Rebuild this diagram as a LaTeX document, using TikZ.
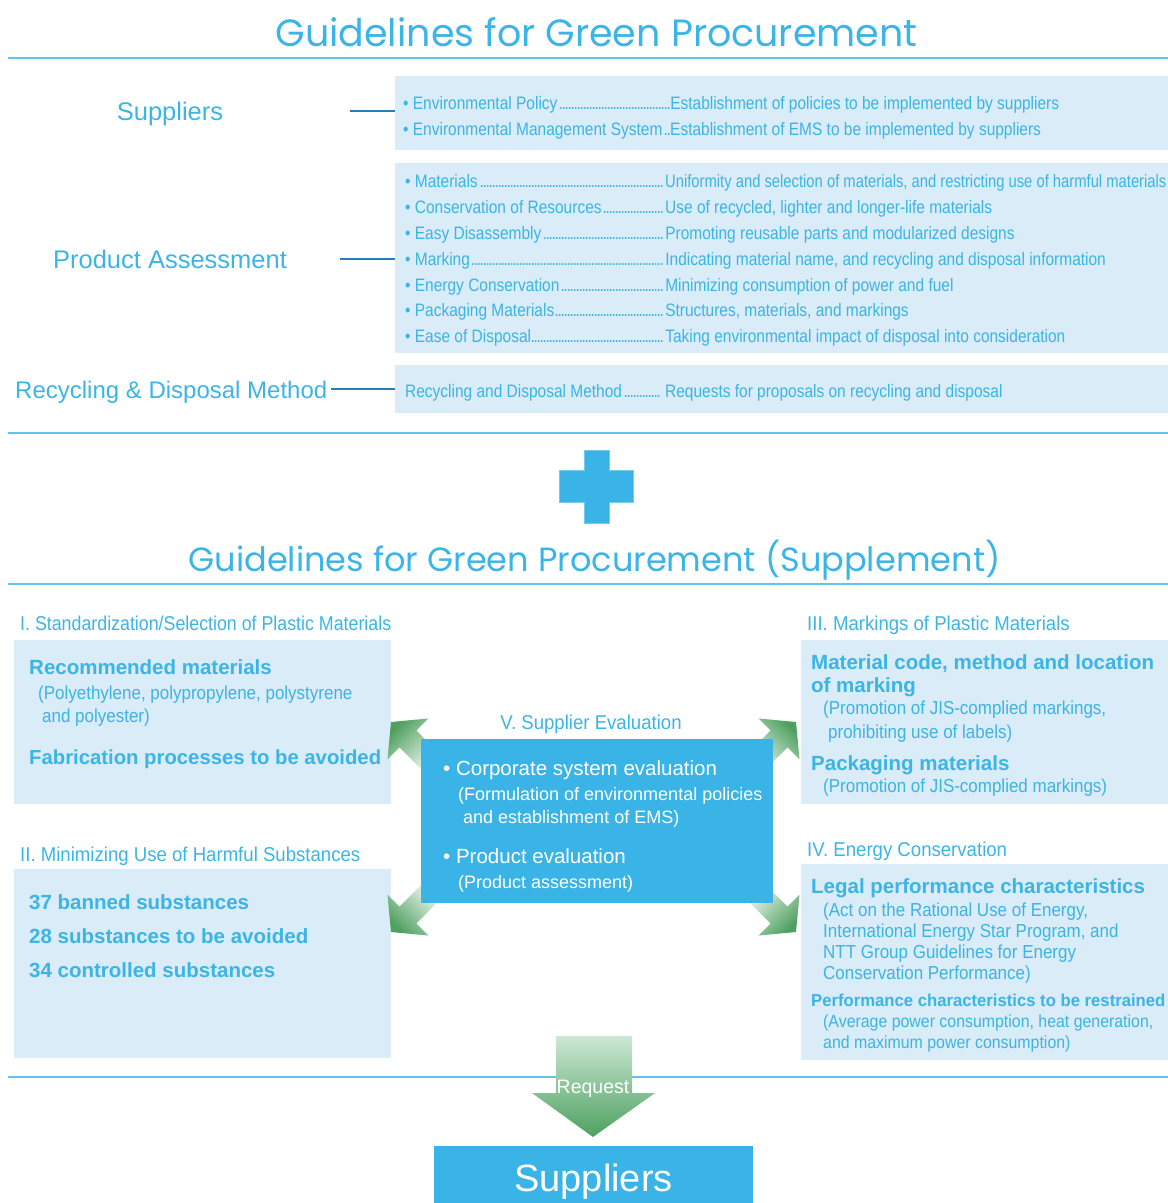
\documentclass[tikz,border=0pt]{standalone}
\usepackage{fontspec}
\setmainfont{Liberation Sans}
\newfontfamily\cond[FakeStretch=0.86]{Liberation Sans}
\newfontfamily\condp[FakeStretch=0.903]{Liberation Sans}
\newfontfamily\condh[FakeStretch=0.93]{Liberation Sans}
\newfontfamily\condhi[FakeStretch=0.89]{Liberation Sans}
\newfontfamily\titlef{Poppins}
\usetikzlibrary{calc}
\definecolor{cy}{RGB}{59,180,230}
\definecolor{lbfill}{RGB}{217,236,247}
\definecolor{dbfill}{RGB}{58,180,230}
\definecolor{sepc}{RGB}{96,196,236}
\definecolor{conncol}{RGB}{40,125,180}
\definecolor{gdark}{RGB}{78,160,96}
\definecolor{glight}{RGB}{205,232,212}
\newcommand\fs[1]{\fontsize{#1}{#1}\selectfont}
\newcommand\lead{\leaders\hbox to 3pt{\hss.\hss}\hfill}
\newcommand\carrow[4]{%
  \coordinate (#4) at ($(#1)!24pt!(#2)$);
  \shade[top color=gdark, bottom color=white, shading angle=#3]
   (#1) -- ($(#4)!29pt!90:(#1)$) -- ($(#4)!12pt!90:(#1)$) -- ($(#2)!12pt!90:(#1)$)
   -- ($(#2)!12pt!-90:(#1)$) -- ($(#4)!12pt!-90:(#1)$) -- ($(#4)!29pt!-90:(#1)$) -- cycle;}
\tikzset{
  lbox/.style={fill=lbfill, draw=none, inner sep=0pt, outer sep=0pt, anchor=north west},
  dbox/.style={fill=dbfill, draw=none, inner sep=0pt, outer sep=0pt, anchor=north west},
  txt/.style={inner sep=0pt, anchor=base west, text=cy},
  wtxt/.style={inner sep=0pt, anchor=base west, text=white},
  sepline/.style={draw=sepc, line width=1.4pt},
  conn/.style={draw=conncol, line width=1.1pt},
  listf/.style={font=\cond\fs{18}},
  headf/.style={font=\condh\fs{20}},
  boldf/.style={font=\bfseries\fs{20.5}},
  parf/.style={font=\condp\fs{18.8}},
  parsf/.style={font=\condp\fs{17.6}},
}
\begin{document}
\begin{tikzpicture}[x=1pt,y=-1pt]
\useasboundingbox (0,0) rectangle (1168,1203);
% separators
\draw[sepline] (8,58) -- (1168,58);
\draw[sepline] (8,433) -- (1168,433);
\draw[sepline] (8,584) -- (1168,584);
\draw[sepline] (8,1077) -- (1168,1077);
% titles
\node[inner sep=0pt, anchor=base, text=cy, font=\titlef\fs{38}] (t1) at (596.5,46) {Guidelines for Green Procurement};
\node[inner sep=0pt, anchor=base, text=cy, font=\titlef\fs{33.6}] (t2) at (594.5,571) {Guidelines for Green Procurement (Supplement)};
% top boxes
\node[lbox, minimum width=773pt, minimum height=74pt] (box1) at (395,76) {};
\node[lbox, minimum width=773pt, minimum height=190pt] (box2) at (395,163) {};
\node[lbox, minimum width=773pt, minimum height=48pt] (box3) at (395,365) {};
% left labels
\node[inner sep=0pt, anchor=base, text=cy, font=\fs{25.5}] (lsup) at (170,120) {Suppliers};
\node[inner sep=0pt, anchor=base, text=cy, font=\fs{25.5}] (lpa) at (170,268) {Product Assessment};
\node[txt, font=\fs{24}] (lrec) at (15,398) {Recycling \& Disposal Method};
\coordinate (c1) at (350,111);
\coordinate (c2) at (340,259);
\coordinate (c3) at (331,389);
\draw[conn] (c1) -- (c1 -| box1.west);
\draw[conn] (c2) -- (c2 -| box2.west);
\draw[conn] (c3) -- (c3 -| box3.west);
% box1 text
\node[txt, listf] (b1a) at (403,109.5) {\makebox[267pt][l]{• Environmental Policy\lead}Establishment of policies to be implemented by suppliers};
\node[txt, listf] (b1b) at (403,135.5) {\makebox[267pt][l]{• Environmental Management System\lead}Establishment of EMS to be implemented by suppliers};
% box2 text
\node[txt, listf] (b2a) at (405,187.5) {\makebox[260pt][l]{• Materials\lead}\scalebox{0.955}[1]{Uniformity and selection of materials, and restricting use of harmful materials}};
\node[txt, listf] (b2b) at (405,213.5) {\makebox[260pt][l]{• Conservation of Resources\lead}Use of recycled, lighter and longer-life materials};
\node[txt, listf] (b2c) at (405,239.5) {\makebox[260pt][l]{• Easy Disassembly\lead}Promoting reusable parts and modularized designs};
\node[txt, listf] (b2d) at (405,265.5) {\makebox[260pt][l]{• Marking\lead}Indicating material name, and recycling and disposal information};
\node[txt, listf] (b2e) at (405,291.5) {\makebox[260pt][l]{• Energy Conservation\lead}Minimizing consumption of power and fuel};
\node[txt, listf] (b2f) at (405,316.5) {\makebox[260pt][l]{• Packaging Materials\lead}Structures, materials, and markings};
\node[txt, listf] (b2g) at (405,342.5) {\makebox[260pt][l]{• Ease of Disposal\lead}Taking environmental impact of disposal into consideration};
% box3 text
\node[txt, listf] (b3a) at (405,397.5) {\makebox[256pt][l]{Recycling and Disposal Method\lead}\hspace{4pt}Requests for proposals on recycling and disposal};
% plus sign
\fill[dbfill, draw=dbfill!70!white, line width=0.6pt] (584,450) -- (609,450) -- (609,470) -- (633,470) -- (633,502) -- (609,502) -- (609,523) -- (584,523) -- (584,502) -- (559,502) -- (559,470) -- (584,470) -- cycle;
% supplement boxes
\node[lbox, minimum width=377pt, minimum height=164pt] (bI) at (14,640) {};
\node[lbox, minimum width=377pt, minimum height=189pt] (bII) at (14,869) {};
\node[lbox, minimum width=367pt, minimum height=164pt] (bIII) at (801,640) {};
\node[lbox, minimum width=367pt, minimum height=196pt] (bIV) at (801,864) {};
% corner arrows
\coordinate (ulP) at (391,722); \coordinate (ulT) at (436,767);
\coordinate (urP) at (796,722); \coordinate (urT) at (751,767);
\coordinate (llP) at (391,932); \coordinate (llT) at (436,887);
\coordinate (lrP) at (796,932); \coordinate (lrT) at (751,887);
\carrow{ulP}{ulT}{45}{ulB}
\carrow{urP}{urT}{-45}{urB}
\carrow{llP}{llT}{135}{llB}
\carrow{lrP}{lrT}{-135}{lrB}
% center box
\node[dbox, minimum width=352pt, minimum height=164pt] (cbox) at (421,739) {};
\node[inner sep=0pt, anchor=base, text=cy, font=\condh\fs{20}] (hV) at (591,729) {V. Supplier Evaluation};
\node[wtxt, font=\fs{20.5}] (v1) at (443,775.5) {• Corporate system evaluation};
\node[wtxt, font=\fs{18}] (v2) at (458,800.5) {(Formulation of environmental policies};
\node[wtxt, font=\fs{18}] (v3) at (463,823.5) {and establishment of EMS)};
\node[wtxt, font=\fs{20.5}] (v4) at (443,863.5) {• Product evaluation};
\node[wtxt, font=\fs{18}] (v5) at (458,888.5) {(Product assessment)};
% section I
\node[txt, font=\condhi\fs{20}] (hI) at (20,630) {I. Standardization/Selection of Plastic Materials};
\node[txt, boldf] (i1) at (29,674.5) {Recommended materials};
\node[txt, parf] (i2) at (38,699.7) {(Polyethylene, polypropylene, polystyrene};
\node[txt, parf] (i3) at (42,722.7) {and polyester)};
\node[txt, font=\bfseries\fs{20.3}] (i4) at (29,764.5) {Fabrication processes to be avoided};
% section II
\node[txt, headf] (hII) at (20,861) {II. Minimizing Use of Harmful Substances};
\node[txt, boldf] (ii1) at (29,909.5) {37 banned substances};
\node[txt, boldf] (ii2) at (29,943.5) {28 substances to be avoided};
\node[txt, boldf] (ii3) at (29,977.5) {34 controlled substances};
% section III
\node[txt, headf] (hIII) at (807,630) {III. Markings of Plastic Materials};
\node[txt, boldf] (iii1) at (811,669.5) {Material code, method and location};
\node[txt, boldf] (iii2) at (811,692.5) {of marking};
\node[txt, parf] (iii3) at (823,714.7) {(Promotion of JIS-complied markings,};
\node[txt, parf] (iii4) at (828,738.7) {prohibiting use of labels)};
\node[txt, boldf] (iii5) at (811,770.5) {Packaging materials};
\node[txt, parf] (iii6) at (823,792.7) {(Promotion of JIS-complied markings)};
% section IV
\node[txt, headf] (hIV) at (807,856) {IV. Energy Conservation};
\node[txt, boldf] (iv1) at (811,893.5) {Legal performance characteristics};
\node[txt, parf] (iv2) at (823,916) {(Act on the Rational Use of Energy,};
\node[txt, parf] (iv3) at (823,937) {International Energy Star Program, and};
\node[txt, parf] (iv4) at (823,958) {NTT Group Guidelines for Energy};
\node[txt, parf] (iv5) at (823,979) {Conservation Performance)};
\node[txt, font=\bfseries\fs{17.2}] (iv6) at (811,1006.5) {\scalebox{0.97}[1]{Performance characteristics to be restrained}};
\node[txt, parsf] (iv7) at (823,1027.5) {(Average power consumption, heat generation,};
\node[txt, parsf] (iv8) at (823,1048.5) {and maximum power consumption)};
% request arrow and suppliers
\node[dbox, minimum width=319pt, minimum height=57pt] (sbox) at (434,1146) {};
\coordinate (rqTop) at (593,1036);
\shade[top color=glight, bottom color=gdark] (556,1036) -- (632,1036) -- (632,1093) -- (655,1093) -- (593,1137) -- (532,1093) -- (556,1093) -- cycle;
\node[inner sep=0pt, anchor=base, text=white, font=\fs{19.5}] (rq) at (593,1093) {Request};
\node[inner sep=0pt, anchor=base, text=white, font=\fs{38}] (sup) at (sbox.center |- 0,1191.5) {Suppliers};
\end{tikzpicture}
\end{document}
